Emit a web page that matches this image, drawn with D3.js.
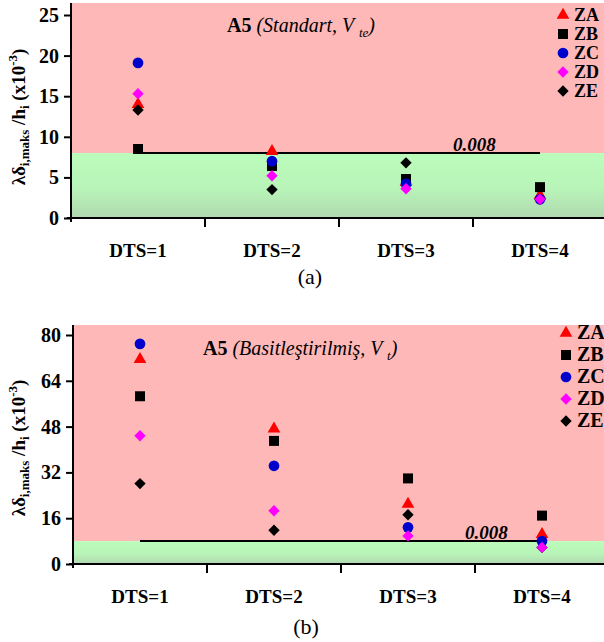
<!DOCTYPE html>
<html>
<head>
<meta charset="utf-8">
<script src="https://cdn.jsdelivr.net/npm/d3@7"></script>
<style>
  html, body { margin: 0; padding: 0; background: #fff; }
  svg { display: block; font-family: "Liberation Serif", "Times New Roman", serif; }
</style>
</head>
<body>
<div id="chart"></div>
<script>
// categories and series
const categories = ["DTS=1", "DTS=2", "DTS=3", "DTS=4"];
const seriesNames = ["ZA", "ZB", "ZC", "ZD", "ZE"];
const drawOrder = ["ZA", "ZE", "ZB", "ZC", "ZD"]; // ZE sits above ZA, below the others

// panel (a) - Standart, V_te  (x10^-3)
const valuesA = {
  ZA: [14.0, 8.2, 4.4, 2.8],
  ZB: [8.5, 6.4, 4.8, 3.8],
  ZC: [19.1, 7.0, 4.2, 2.3],
  ZD: [15.3, 5.2, 3.6, 2.3],
  ZE: [13.3, 3.5, 6.8, 2.3]
};
const ticksA = [0, 5, 10, 15, 20, 25];

// panel (b) - Basitleştirilmiş, V_t
const valuesB = {
  ZA: [71.5, 47.2, 20.9, 10.4],
  ZB: [58.6, 43.0, 29.9, 16.9],
  ZC: [76.9, 34.3, 12.8, 8.0],
  ZD: [44.8, 18.6, 9.8, 5.8],
  ZE: [28.1, 11.8, 17.2, 5.8]
};
const ticksB = [0, 16, 32, 48, 64, 80];

const limit = 8; // 0.008

const W = 604, H = 642;
const svg = d3.select("#chart").append("svg").attr("width", W).attr("height", H);

const defs = svg.append("defs");
const grad = defs.append("linearGradient").attr("id", "greenGrad")
  .attr("x1", 0).attr("y1", 0).attr("x2", 0).attr("y2", 1);
grad.append("stop").attr("offset", "0%").attr("stop-color", "#bbfcbb");
grad.append("stop").attr("offset", "55%").attr("stop-color", "#b8f4b8");
grad.append("stop").attr("offset", "100%").attr("stop-color", "#b0d8b0");

const colors = { ZA: "#ff0000", ZB: "#000000", ZC: "#0000cc", ZD: "#ff00ff", ZE: "#000000" };
const symbols = {
  ZA: d3.symbol().type(d3.symbolTriangle).size(70)(),
  ZB: d3.symbol().type(d3.symbolSquare).size(100)(),
  ZC: d3.symbol().type(d3.symbolCircle).size(90)(),
  ZD: d3.symbol().type(d3.symbolSquare).size(64)(),
  ZE: d3.symbol().type(d3.symbolSquare).size(64)()
};
const rotate = { ZA: 0, ZB: 0, ZC: 0, ZD: 45, ZE: 45 };

function drawPanel(cfg) {
  const g = svg.append("g");
  const x = d3.scaleBand().domain(categories).range([cfg.left, cfg.left + 4 * 134]);
  const y = d3.scaleLinear().domain([0, cfg.max]).range([cfg.bottom, cfg.yTopTick]);

  // background zones
  g.append("rect")
    .attr("x", cfg.left).attr("y", cfg.top)
    .attr("width", W - cfg.left).attr("height", y(limit) - cfg.top)
    .attr("fill", "#ffb8b8");
  g.append("rect")
    .attr("x", cfg.left).attr("y", y(limit))
    .attr("width", W - cfg.left).attr("height", y(0) - y(limit))
    .attr("fill", "url(#greenGrad)");

  // limit line
  g.append("line")
    .attr("x1", x(categories[0]) + x.bandwidth() / 2)
    .attr("x2", x(categories[3]) + x.bandwidth() / 2)
    .attr("y1", y(limit)).attr("y2", y(limit))
    .attr("stroke", "#000").attr("stroke-width", 2);
  g.append("text")
    .attr("x", cfg.limitLabelX).attr("y", y(limit) - 2)
    .attr("font-size", 19).attr("font-weight", "bold").attr("font-style", "italic")
    .text("0.008");

  // y axis
  const yAxis = g.append("g").attr("transform", `translate(${cfg.left},0)`)
    .call(d3.axisLeft(y).tickValues(cfg.ticks).tickSize(7).tickPadding(5));
  yAxis.select(".domain").remove();
  yAxis.selectAll("line").attr("stroke", "#000").attr("stroke-width", 2);
  yAxis.selectAll("text").attr("font-size", 20).attr("font-weight", "bold")
    .attr("font-family", "Liberation Serif").attr("fill", "#000");
  g.append("line")
    .attr("x1", cfg.left).attr("x2", cfg.left)
    .attr("y1", cfg.top).attr("y2", y(0) + 4)
    .attr("stroke", "#000").attr("stroke-width", 2);

  // x axis
  g.append("line")
    .attr("x1", cfg.left - 4).attr("x2", W)
    .attr("y1", y(0)).attr("y2", y(0))
    .attr("stroke", "#000").attr("stroke-width", 2);
  g.selectAll(".xtick").data(categories.slice(1)).enter().append("line")
    .attr("x1", d => x(d)).attr("x2", d => x(d))
    .attr("y1", y(0)).attr("y2", y(0) + 9)
    .attr("stroke", "#000").attr("stroke-width", 2);
  g.selectAll(".xlab").data(categories).enter().append("text")
    .attr("x", d => x(d) + x.bandwidth() / 2).attr("y", y(0) + 39)
    .attr("text-anchor", "middle").attr("font-size", 19).attr("font-weight", "bold")
    .text(d => d);

  // y label
  const yl = g.append("text")
    .attr("transform", `translate(${cfg.ylabX},${cfg.ylabY}) rotate(-90)`)
    .attr("text-anchor", "middle").attr("font-size", 19).attr("font-weight", "bold");
  yl.append("tspan").text("λδ");
  yl.append("tspan").attr("font-size", 13).attr("dy", 4).text("i,maks");
  yl.append("tspan").attr("dy", -4).text(" /h");
  yl.append("tspan").attr("font-size", 13).attr("dy", 4).text("i");
  yl.append("tspan").attr("dy", -4).text(" (x10");
  yl.append("tspan").attr("font-size", 13).attr("dy", -8).text("-3");
  yl.append("tspan").attr("dy", 8).text(")");

  // title
  const t = g.append("text").attr("x", cfg.titleX).attr("y", cfg.titleY).attr("font-size", 20);
  t.append("tspan").attr("font-weight", "bold").text("A5 ");
  t.append("tspan").attr("font-style", "italic").text(cfg.titleText + ", V ");
  t.append("tspan").attr("font-style", "italic").attr("font-size", 13).attr("dy", 5).text(cfg.titleSub);
  t.append("tspan").attr("font-style", "italic").attr("dy", -5).text(")");

  // points
  drawOrder.forEach(s => {
    g.selectAll(".pt-" + s).data(cfg.values[s]).enter().append("path")
      .attr("d", symbols[s])
      .attr("transform", (d, i) =>
        `translate(${x(categories[i]) + x.bandwidth() / 2},${y(d)}) rotate(${rotate[s]})`)
      .attr("fill", colors[s]);
  });

  // legend
  const lg = g.selectAll(".leg").data(seriesNames).enter().append("g")
    .attr("transform", (d, i) => `translate(${cfg.legX},${cfg.legY + i * cfg.legStep})`);
  lg.append("path").attr("d", d => symbols[d])
    .attr("transform", d => `rotate(${rotate[d]})`)
    .attr("fill", d => colors[d]);
  lg.append("text").attr("x", 11).attr("y", 6)
    .attr("font-size", cfg.legFont).attr("font-weight", "bold").text(d => d);

  // caption
  g.append("text").attr("x", cfg.capX).attr("y", cfg.capY)
    .attr("text-anchor", "middle").attr("font-size", 22).text(cfg.caption);
}

drawPanel({
  values: valuesA, ticks: ticksA, max: 25,
  left: 71, top: 3, bottom: 218, yTopTick: 15,
  limitLabelX: 453,
  ylabX: 25, ylabY: 117,
  titleX: 227, titleY: 32, titleText: "(Standart", titleSub: "te",
  legX: 563, legY: 15, legStep: 19, legFont: 18,
  capX: 310, capY: 284, caption: "(a)"
});

drawPanel({
  values: valuesB, ticks: ticksB, max: 80,
  left: 73, top: 325, bottom: 564, yTopTick: 335,
  limitLabelX: 465,
  ylabX: 25, ylabY: 448,
  titleX: 203, titleY: 355, titleText: "(Basitleştirilmiş", titleSub: "t",
  legX: 566, legY: 333, legStep: 22, legFont: 20,
  capX: 306, capY: 634, caption: "(b)"
});
</script>
</body>
</html>
